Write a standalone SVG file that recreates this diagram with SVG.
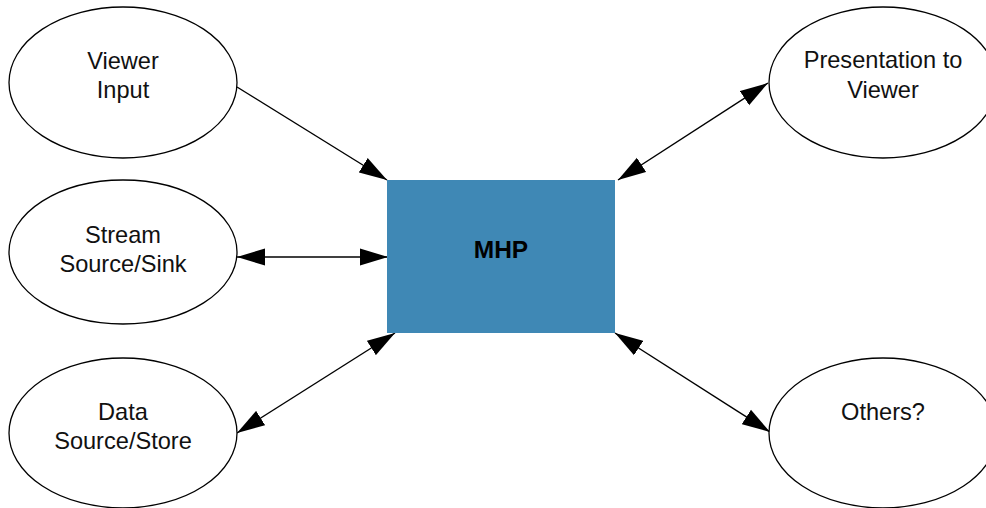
<svg xmlns="http://www.w3.org/2000/svg" width="986" height="508" viewBox="0 0 986 508">
<defs>
<marker id="ah" markerUnits="userSpaceOnUse" markerWidth="28" markerHeight="18" refX="28" refY="9" orient="auto-start-reverse" viewBox="0 0 28 18">
<path d="M0,0.5 L28,9 L0,17.5 z" fill="#000"/>
</marker>
<style>
.node ellipse{fill:#fff;stroke:#000;stroke-width:1.3}
.lbl{font-family:"Liberation Sans",Arial,sans-serif;font-size:23.6px;fill:#111;text-anchor:middle}
.conn line{stroke:#000;stroke-width:1.4;fill:none}
</style>
</defs>
<rect width="986" height="508" fill="#fff"/>
<g id="connectors" class="conn">
<line x1="237" y1="87" x2="387" y2="180" marker-end="url(#ah)"/>
<line x1="237" y1="257" x2="388" y2="257" marker-start="url(#ah)" marker-end="url(#ah)"/>
<line x1="237" y1="433" x2="395" y2="333" marker-start="url(#ah)" marker-end="url(#ah)"/>
<line x1="768" y1="83" x2="618" y2="180" marker-start="url(#ah)" marker-end="url(#ah)"/>
<line x1="615" y1="333" x2="770" y2="432" marker-start="url(#ah)" marker-end="url(#ah)"/>
</g>
<g id="viewer-input" class="node">
<ellipse cx="123" cy="82.5" rx="114" ry="75.5"/>
<text class="lbl" x="123" y="69">Viewer</text>
<text class="lbl" x="123" y="98">Input</text>
</g>
<g id="stream" class="node">
<ellipse cx="123" cy="252" rx="114" ry="72"/>
<text class="lbl" x="123" y="243">Stream</text>
<text class="lbl" x="123" y="272">Source/Sink</text>
</g>
<g id="data" class="node">
<ellipse cx="123" cy="433" rx="114" ry="75"/>
<text class="lbl" x="123" y="420">Data</text>
<text class="lbl" x="123" y="449">Source/Store</text>
</g>
<g id="presentation" class="node">
<ellipse cx="883" cy="82.5" rx="114" ry="75.5"/>
<text class="lbl" x="883" y="68">Presentation to</text>
<text class="lbl" x="883" y="98">Viewer</text>
</g>
<g id="others" class="node">
<ellipse cx="883" cy="433" rx="114" ry="75"/>
<text class="lbl" x="883" y="420">Others?</text>
</g>
<g id="mhp">
<rect x="387" y="180" width="228" height="153" fill="#3F88B5"/>
<text x="501" y="258" font-family="'Liberation Sans',Arial,sans-serif" font-size="24.5" font-weight="bold" text-anchor="middle" fill="#000">MHP</text>
</g>
</svg>
